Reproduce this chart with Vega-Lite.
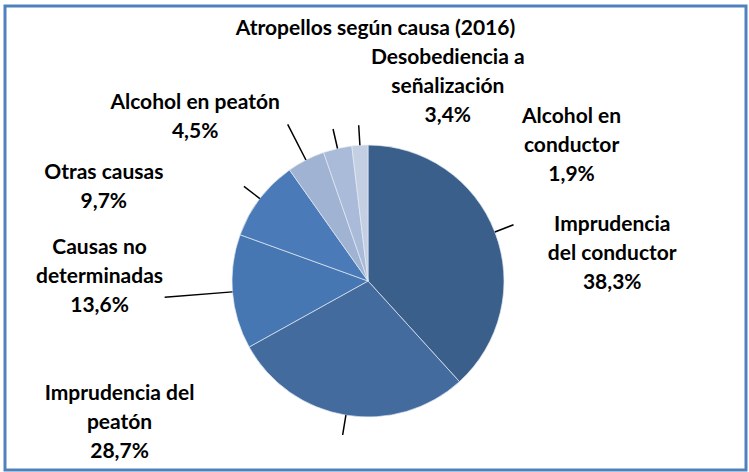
{
  "$schema": "https://vega.github.io/schema/vega-lite/v6.json",
  "width": 741,
  "height": 464,
  "autosize": "none",
  "padding": {"left": 5, "top": 6, "right": 3, "bottom": 2},
  "background": "white",
  "view": {"stroke": "#4F81BD", "strokeWidth": 3, "fill": "white"},
  "config": {
    "view": {"stroke": "#4F81BD", "strokeWidth": 3},
    "font": "Lato"
  },
  "title": {
    "text": "Atropellos según causa (2016)",
    "font": "Lato",
    "fontSize": 21,
    "fontWeight": "bold",
    "color": "#000000",
    "anchor": "middle",
    "offset": -33
  },
  "data": {
    "values": [
      {"cause": "Imprudencia del conductor", "value": 38.3, "label": "Imprudencia\ndel conductor\n38,3%"},
      {"cause": "Imprudencia del peatón", "value": 28.7, "label": "Imprudencia del\npeatón\n28,7%"},
      {"cause": "Causas no determinadas", "value": 13.6, "label": "Causas no\ndeterminadas\n13,6%"},
      {"cause": "Otras causas", "value": 9.7, "label": "Otras causas\n9,7%"},
      {"cause": "Alcohol en peatón", "value": 4.5, "label": "Alcohol en peatón\n4,5%"},
      {"cause": "Desobediencia a señalización", "value": 3.4, "label": "Desobediencia a\nseñalización\n3,4%"},
      {"cause": "Alcohol en conductor", "value": 1.9, "label": "Alcohol en\nconductor\n1,9%"}
    ]
  },
  "layer": [
    {
      "mark": {"type": "arc", "outerRadius": 136, "xOffset": -7.5, "yOffset": 43, "stroke": "#E3E9F2", "strokeWidth": 0.7},
      "encoding": {
        "theta": {"field": "value", "type": "quantitative", "stack": true},
        "order": {"field": "value", "sort": "descending"},
        "color": {
          "field": "cause",
          "type": "nominal",
          "scale": {
            "domain": ["Imprudencia del conductor", "Imprudencia del peatón", "Causas no determinadas", "Otras causas", "Alcohol en peatón", "Desobediencia a señalización", "Alcohol en conductor"],
            "range": ["#3A5F8B", "#436B9E", "#4777B2", "#4A7BB8", "#A1B3D3", "#AABBD9", "#C4CFE3"]
          },
          "legend": null
        }
      }
    },
    {
      "mark": {
        "type": "arc",
        "innerRadius": 136,
        "outerRadius": {"expr": "datum.cause === 'Causas no determinadas' ? 204 : datum.cause === 'Alcohol en peatón' ? 176 : 156"},
        "padAngle": 3.1416,
        "xOffset": -7.5,
        "yOffset": 43,
        "fill": "transparent",
        "stroke": "#000000",
        "strokeWidth": 1.5
      },
      "encoding": {
        "theta": {"field": "value", "type": "quantitative", "stack": true},
        "order": {"field": "value", "sort": "descending"}
      }
    },
    {
      "mark": {
        "type": "text",
        "radius": 175,
        "xOffset": -7.5,
        "yOffset": 43,
        "font": "Lato",
        "fontSize": 21,
        "fontWeight": "bold",
        "lineBreak": "\n",
        "lineHeight": 29,
        "align": "center",
        "baseline": "middle",
        "color": "#000000",
        "dx": {"expr": "datum.cause === 'Imprudencia del conductor' ? 81 : datum.cause === 'Imprudencia del peatón' ? -220 : datum.cause === 'Causas no determinadas' ? -94 : datum.cause === 'Otras causas' ? -125 : datum.cause === 'Alcohol en peatón' ? -93 : datum.cause === 'Desobediencia a señalización' ? 119 : 214"},
        "dy": {"expr": "datum.cause === 'Imprudencia del conductor' ? 7 : datum.cause === 'Imprudencia del peatón' ? -60 : datum.cause === 'Causas no determinadas' ? -47 : datum.cause === 'Otras causas' ? -2 : datum.cause === 'Alcohol en peatón' ? -22 : datum.cause === 'Desobediencia a señalización' ? -52 : 11"}
      },
      "encoding": {
        "theta": {"field": "value", "type": "quantitative", "stack": true},
        "order": {"field": "value", "sort": "descending"},
        "text": {"field": "label", "type": "nominal"}
      }
    }
  ]
}
